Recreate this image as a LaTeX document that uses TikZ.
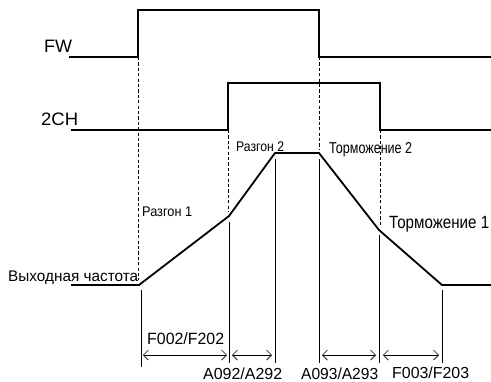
\documentclass[tikz,border=0pt]{standalone}
\usepackage{fontspec}
\usepackage{graphicx}
\setmainfont{Liberation Sans}
\usetikzlibrary{arrows.meta}
\newcommand\fitt[3]{\resizebox{#1pt}{\height}{\fontsize{#2}{#2}\selectfont #3}}
\begin{document}
\begin{tikzpicture}[x=1pt,y=-1pt,
  sig/.style={line width=1.8pt, line join=miter},
  guide/.style={line width=0.8pt, dash pattern=on 3.2pt off 2.2pt},
  vline/.style={line width=0.7pt},
  dim/.style={line width=0.7pt, {Straight Barb[length=5pt,width=10pt]}-{Straight Barb[length=5pt,width=10pt]}},
  lbl/.style={inner sep=0pt, anchor=base west}]
\useasboundingbox (0,0) rectangle (491,381);
% FW signal
\coordinate (fw0) at (69,57);
\coordinate (fw1) at (138,57);
\coordinate (fw2) at (138,10);
\coordinate (fw3) at (319,10);
\coordinate (fw4) at (319,57);
\coordinate (fw5) at (491,57);
\draw[sig] (fw0) -- (fw1) -- (fw2) -- (fw3) -- (fw4) -- (fw5);
% 2CH signal
\coordinate (ch0) at (71,130);
\coordinate (ch1) at (228,130);
\coordinate (ch2) at (228,83);
\coordinate (ch3) at (380,83);
\coordinate (ch4) at (380,130);
\coordinate (ch5) at (491,130);
\draw[sig] (ch0) -- (ch1) -- (ch2) -- (ch3) -- (ch4) -- (ch5);
% output frequency
\coordinate (of0) at (71,285);
\coordinate (of1) at (139,285);
\coordinate (of2) at (229,216);
\coordinate (of3) at (275,153);
\coordinate (of4) at (319,153);
\coordinate (of5) at (379,230);
\coordinate (of6) at (442,285);
\coordinate (of7) at (491,285);
\draw[sig] (of0) -- (of1) -- (of2) -- (of3) -- (of4) -- (of5) -- (of6) -- (of7);
% dashed guides
\coordinate (g1) at (138,280);
\coordinate (g2) at (228,212);
\coordinate (g3) at (319,150);
\coordinate (g4) at (380,226);
\draw[guide] (fw1) -- (g1);
\draw[guide] (ch1) -- (g2);
\draw[guide] (fw4) -- (g3);
\draw[guide] (ch4) -- (g4);
% solid verticals
\coordinate (t1a) at (141,290); \coordinate (t1b) at (141,367);
\coordinate (t2a) at (229,222); \coordinate (t2b) at (229,363);
\coordinate (t3a) at (275,159); \coordinate (t3b) at (275,363);
\coordinate (t4a) at (319,159); \coordinate (t4b) at (319,363);
\coordinate (t5a) at (379,235); \coordinate (t5b) at (379,363);
\coordinate (t6a) at (442,290); \coordinate (t6b) at (442,363);
\foreach \i in {1,...,6} \draw[vline] (t\i a) -- (t\i b);
% dimension arrows
\coordinate (d1a) at (143,355); \coordinate (d1b) at (227,355);
\coordinate (d2a) at (232,355); \coordinate (d2b) at (272,355);
\coordinate (d3a) at (322,355); \coordinate (d3b) at (376,355);
\coordinate (d4a) at (383,355); \coordinate (d4b) at (439,355);
\foreach \i in {1,...,4} \draw[dim] (d\i a) -- (d\i b);
% labels
\node[lbl] (lfw) at (44,52) {\fitt{28}{18}{FW}};
\node[lbl] (lch) at (41,125) {\fitt{37}{18}{2CH}};
\node[lbl] (lout) at (8,281) {\fitt{130}{15.4}{Выходная частота}};
\node[lbl] (lr1) at (142,216) {\fitt{50}{14}{Разгон 1}};
\node[lbl] (lr2) at (236,151) {\fitt{48}{14}{Разгон 2}};
\node[lbl] (lt2) at (329,153) {\fitt{83}{15.8}{Торможение 2}};
\node[lbl] (lt1) at (389,228) {\fitt{100}{17.7}{Торможение 1}};
\node[lbl] (lf1) at (147,344) {\fitt{77}{16.3}{F002/F202}};
\node[lbl] (la1) at (203,379) {\fitt{79}{16}{A092/A292}};
\node[lbl] (la2) at (301,379) {\fitt{77}{16}{A093/A293}};
\node[lbl] (lf2) at (392,378) {\fitt{77}{16}{F003/F203}};
\end{tikzpicture}
\end{document}
